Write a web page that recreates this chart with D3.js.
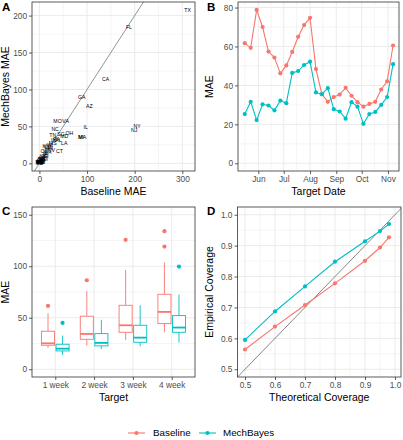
<!DOCTYPE html>
<html><head><meta charset="utf-8">
<script src="https://cdn.jsdelivr.net/npm/d3@7"></script>
<style>body{margin:0;background:#fff} text{font-family:"Liberation Sans",Arial,sans-serif}</style>
</head><body><svg id="c" width="403" height="440"></svg>
<script>
// ---------- DATA ----------
// Panel A: per-state MAE
const states = ["TX","FL","CA","GA","AZ","MO","VA","NC","IL","NY","NJ","MA","MI","OH","TN","SC","MD","PA","IN","AL","LA","MS","WI","KY","CO","MN","NV","CT","WA","OK","IA","AR","KS","UT","NM","NE","OR","ID","NH","RI","DE","SD","ND","DC","WV","ME","VT","HI","AK","WY","MT"];
const stateBaselineMAE = [311,188,139,89,105,38,55,33,97,205,199,90,87,63,28,45,52,36,30,40,52,28,22,14,18,20,25,42,17,10,12,12,8,6,9,5,4,7,3,5,2,3,2,4,1,0,0,1,0,1,2];
const stateMechMAE     = [208,184,114,89,78,57,57,46,49,50,45,35,35,41,38,39,37,33,31,31,27,27,24,23,22,20,18,16,15,17,13,10,9,7,6,5,4,3,2,4,2,5,3,1,1,0,1,0,2,2,1];

// Panel B: weekly MAE by target date
const targetDates = ["2020-05-16","2020-05-23","2020-05-30","2020-06-06","2020-06-13","2020-06-20","2020-06-27","2020-07-04","2020-07-11","2020-07-18","2020-07-25","2020-08-01","2020-08-08","2020-08-15","2020-08-22","2020-08-29","2020-09-05","2020-09-12","2020-09-19","2020-09-26","2020-10-03","2020-10-10","2020-10-17","2020-10-24","2020-10-31","2020-11-07"];
const baselineWeekly = [61.7,59.3,78.8,70.0,57.4,54.3,46.2,50.3,57.2,65.0,71.0,74.7,48.4,35.5,31.6,34.0,35.3,38.8,34.7,31.4,29.1,30.5,31.6,37.9,42.1,60.5];
const mechWeekly     = [25.3,31.6,22.2,30.3,29.7,27.2,32.2,30.9,46.4,47.4,50.5,52.2,36.4,35.5,38.6,27.8,26.6,22.9,31.4,29.1,20.3,25.3,26.4,30.0,34.0,50.9];

// Panel C: boxplot stats [lower whisker, q1, median, q3, upper whisker]
const targets = ["1 week","2 week","3 week","4 week"];
const boxBaselineStats = [[20.7,23.3,25.2,36.9,54.4],[23.0,29.1,34.3,51.5,76.0],[28.5,35.9,42.7,62.1,96.4],[35.9,44.3,55.7,72.8,103.6]];
const boxBaselineOutliers = [[61.5],[86.4],[125.6],[119.1,134.0]];
const boxMechStats = [[13.9,17.8,20.0,24.3,32.7],[19.7,22.7,25.6,34.6,48.0],[22.3,26.2,30.7,42.7,62.1],[25.9,35.9,40.5,52.1,72.5]];
const boxMechOutliers = [[45.0],[],[],[99.7]];

// Panel D: coverage
const coverageLevels = [0.5,0.6,0.7,0.8,0.9,0.95,0.98];
const coverageBaseline = [0.564,0.638,0.708,0.778,0.851,0.894,0.927];
const coverageMech     = [0.595,0.687,0.768,0.848,0.914,0.947,0.970];

const seriesNames = ["Baseline","MechBayes"];
const colors = {Baseline:"#F8766D", MechBayes:"#00BFC4"};

// ---------- DRAW ----------
const svg = d3.select("#c");
const GRID = "#EBEBEB", BORDER = "#333333", TICKTXT = "#4D4D4D";
let clipId = 0;

function panel(r, xs, ys, o) {
  const g = svg.append("g");
  g.append("rect").attr("x", r.x0).attr("y", r.y0).attr("width", r.x1 - r.x0).attr("height", r.y1 - r.y0).attr("fill", "#fff");
  (o.xMin || []).forEach(v => g.append("line").attr("x1", xs(v)).attr("x2", xs(v)).attr("y1", r.y0).attr("y2", r.y1).attr("stroke", GRID).attr("stroke-width", 0.5));
  (o.yMin || []).forEach(v => g.append("line").attr("y1", ys(v)).attr("y2", ys(v)).attr("x1", r.x0).attr("x2", r.x1).attr("stroke", GRID).attr("stroke-width", 0.5));
  o.xMaj.forEach(v => g.append("line").attr("x1", xs(v)).attr("x2", xs(v)).attr("y1", r.y0).attr("y2", r.y1).attr("stroke", GRID).attr("stroke-width", 1));
  o.yMaj.forEach(v => g.append("line").attr("y1", ys(v)).attr("y2", ys(v)).attr("x1", r.x0).attr("x2", r.x1).attr("stroke", GRID).attr("stroke-width", 1));
  // axes ticks and labels
  const xa = d3.axisBottom(xs).tickValues(o.xMaj).tickSize(3).tickPadding(2).tickFormat(o.xFmt || (d => d));
  const ya = d3.axisLeft(ys).tickValues(o.yMaj).tickSize(3).tickPadding(2).tickFormat(o.yFmt || (d => d));
  const gx = svg.append("g").attr("transform", `translate(0,${r.y1})`).call(xa);
  const gy = svg.append("g").attr("transform", `translate(${r.x0},0)`).call(ya);
  [gx, gy].forEach(a => {
    a.select(".domain").remove();
    a.selectAll("line").attr("stroke", BORDER).attr("stroke-width", 0.8);
    a.selectAll("text").attr("fill", TICKTXT).attr("font-size", 8.3).attr("font-family", "Liberation Sans, Arial, sans-serif");
  });
  const id = "clip" + (clipId++);
  svg.append("clipPath").attr("id", id).append("rect").attr("x", r.x0).attr("y", r.y0).attr("width", r.x1 - r.x0).attr("height", r.y1 - r.y0);
  const data = svg.append("g").attr("clip-path", `url(#${id})`);
  // titles
  svg.append("text").attr("x", (r.x0 + r.x1) / 2).attr("y", r.y1 + 24).attr("text-anchor", "middle").attr("font-size", 10.5).attr("fill", "#000").text(o.xTitle);
  svg.append("text").attr("transform", `translate(${o.yTitleX},${(r.y0 + r.y1) / 2}) rotate(-90)`).attr("text-anchor", "middle").attr("font-size", 10.5).attr("fill", "#000").text(o.yTitle);
  svg.append("text").attr("x", o.tagX).attr("y", o.tagY).attr("font-size", 11.5).attr("font-weight", "bold").attr("fill", "#000").text(o.tag);
  return {data, finish: () => svg.append("rect").attr("x", r.x0).attr("y", r.y0).attr("width", r.x1 - r.x0).attr("height", r.y1 - r.y0).attr("fill", "none").attr("stroke", BORDER).attr("stroke-width", 0.8)};
}

// ----- Panel A -----
{
  const r = {x0: 32, x1: 195, y0: 2, y1: 171};
  const xs = d3.scaleLinear().domain([-15.55, 326.6]).range([r.x0, r.x1]);
  const ys = d3.scaleLinear().domain([-10.4, 218.4]).range([r.y1, r.y0]);
  const p = panel(r, xs, ys, {xMaj: [0,100,200,300], xMin: [50,150,250], yMaj: [0,50,100,150,200], yMin: [25,75,125,175],
    xTitle: "Baseline MAE", yTitle: "MechBayes MAE", yTitleX: 9, tag: "A", tagX: 2, tagY: 11});
  p.data.append("line").attr("x1", xs(-20)).attr("y1", ys(-20)).attr("x2", xs(330)).attr("y2", ys(330)).attr("stroke", "#666").attr("stroke-width", 0.7);
  p.data.selectAll("text.st").data(states).join("text").attr("class", "st")
    .attr("x", (d, i) => xs(stateBaselineMAE[i])).attr("y", (d, i) => ys(stateMechMAE[i]))
    .attr("dy", "0.35em").attr("text-anchor", "middle").attr("font-size", 5.2).attr("fill", "#000").text(d => d);
  p.finish();
}

// ----- Panel B -----
{
  const r = {x0: 238, x1: 399, y0: 2, y1: 171};
  const parse = d3.utcParse("%Y-%m-%d");
  const dts = targetDates.map(parse);
  const xs = d3.scaleUtc().domain([parse("2020-05-08"), parse("2020-11-14")]).range([r.x0, r.x1]);
  const ys = d3.scaleLinear().domain([-3.95, 82.85]).range([r.y1, r.y0]);
  const months = ["2020-06-01","2020-07-01","2020-08-01","2020-09-01","2020-10-01","2020-11-01"].map(parse);
  const minors = ["2020-05-16","2020-06-16","2020-07-16","2020-08-16","2020-09-16","2020-10-16"].map(parse);
  const p = panel(r, xs, ys, {xMaj: months, xMin: minors, yMaj: [0,20,40,60,80], yMin: [10,30,50,70],
    xFmt: d3.utcFormat("%b"), xTitle: "Target Date", yTitle: "MAE", yTitleX: 213, tag: "B", tagX: 207, tagY: 11});
  [[baselineWeekly, colors.Baseline], [mechWeekly, colors.MechBayes]].forEach(([vals, col]) => {
    p.data.append("path").attr("d", d3.line().x((d, i) => xs(dts[i])).y(d => ys(d))(vals)).attr("fill", "none").attr("stroke", col).attr("stroke-width", 1.1);
    p.data.selectAll(null).data(vals).join("circle").attr("cx", (d, i) => xs(dts[i])).attr("cy", d => ys(d)).attr("r", 2.1).attr("fill", col);
  });
  p.finish();
}

// ----- Panel C -----
{
  const r = {x0: 32, x1: 195, y0: 207, y1: 377};
  const xs = d3.scaleLinear().domain([0.4, 4.6]).range([r.x0, r.x1]);
  const ys = d3.scaleLinear().domain([-7.5, 157.5]).range([r.y1, r.y0]);
  const p = panel(r, xs, ys, {xMaj: [1,2,3,4], xMin: [], yMaj: [0,50,100,150], yMin: [25,75,125],
    xFmt: d => targets[d - 1], xTitle: "Target", yTitle: "MAE", yTitleX: 9, tag: "C", tagX: 2, tagY: 215});
  const bw = 0.75 / 2 * 0.9;
  [[boxBaselineStats, boxBaselineOutliers, colors.Baseline, -0.1875], [boxMechStats, boxMechOutliers, colors.MechBayes, 0.1875]].forEach(([stats, outs, col, off]) => {
    stats.forEach((s, i) => {
      const c = i + 1 + off;
      const g = p.data.append("g");
      g.append("line").attr("x1", xs(c)).attr("x2", xs(c)).attr("y1", ys(s[3])).attr("y2", ys(s[4])).attr("stroke", col).attr("stroke-width", 0.9);
      g.append("line").attr("x1", xs(c)).attr("x2", xs(c)).attr("y1", ys(s[1])).attr("y2", ys(s[0])).attr("stroke", col).attr("stroke-width", 0.9);
      g.append("rect").attr("x", xs(c - bw / 2)).attr("width", xs(c + bw / 2) - xs(c - bw / 2)).attr("y", ys(s[3])).attr("height", ys(s[1]) - ys(s[3]))
        .attr("fill", "#fff").attr("stroke", col).attr("stroke-width", 0.9);
      g.append("line").attr("x1", xs(c - bw / 2)).attr("x2", xs(c + bw / 2)).attr("y1", ys(s[2])).attr("y2", ys(s[2])).attr("stroke", col).attr("stroke-width", 1.8);
      outs[i].forEach(v => g.append("circle").attr("cx", xs(c)).attr("cy", ys(v)).attr("r", 2.1).attr("fill", col));
    });
  });
  p.finish();
}

// ----- Panel D -----
{
  const r = {x0: 237.5, x1: 401, y0: 207, y1: 377};
  const xs = d3.scaleLinear().domain([0.475, 1.02]).range([r.x0, r.x1]);
  const ys = d3.scaleLinear().domain([0.475, 1.025]).range([r.y1, r.y0]);
  const p = panel(r, xs, ys, {xMaj: [0.5,0.6,0.7,0.8,0.9,1.0], xMin: [0.55,0.65,0.75,0.85,0.95], yMaj: [0.5,0.6,0.7,0.8,0.9,1.0], yMin: [0.55,0.65,0.75,0.85,0.95,],
    xFmt: d3.format(".1f"), yFmt: d3.format(".1f"), xTitle: "Theoretical Coverage", yTitle: "Empirical Coverage", yTitleX: 213, tag: "D", tagX: 207, tagY: 215});
  p.data.append("line").attr("x1", xs(0.4)).attr("y1", ys(0.4)).attr("x2", xs(1.1)).attr("y2", ys(1.1)).attr("stroke", "#555").attr("stroke-width", 0.7);
  [[coverageBaseline, colors.Baseline], [coverageMech, colors.MechBayes]].forEach(([vals, col]) => {
    p.data.append("path").attr("d", d3.line().x((d, i) => xs(coverageLevels[i])).y(d => ys(d))(vals)).attr("fill", "none").attr("stroke", col).attr("stroke-width", 1.1);
    p.data.selectAll(null).data(vals).join("circle").attr("cx", (d, i) => xs(coverageLevels[i])).attr("cy", d => ys(d)).attr("r", 2.1).attr("fill", col);
  });
  p.finish();
}

// ----- Legend -----
{
  const lg = svg.append("g");
  const keyX = [128, 199], txtX = [153, 223], y = 433;
  seriesNames.forEach((n, i) => {
    lg.append("line").attr("x1", keyX[i]).attr("x2", keyX[i] + 17).attr("y1", y).attr("y2", y).attr("stroke", colors[n]).attr("stroke-width", 1.1);
    lg.append("circle").attr("cx", keyX[i] + 8.5).attr("cy", y).attr("r", 2.1).attr("fill", colors[n]);
    lg.append("text").attr("x", txtX[i]).attr("y", y).attr("dy", "0.35em").attr("font-size", 9.8).attr("fill", "#000").text(n);
  });
}
</script></body></html>
